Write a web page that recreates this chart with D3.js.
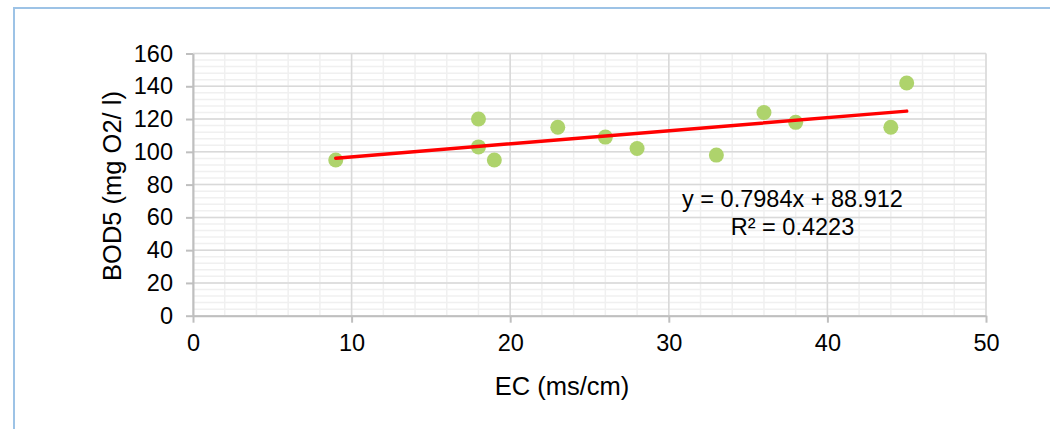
<!DOCTYPE html>
<html>
<head>
<meta charset="utf-8">
<script src="https://cdn.jsdelivr.net/npm/d3@7"></script>
<style>
  html, body { margin: 0; padding: 0; background: #fff; }
  svg { display: block; }
</style>
</head>
<body>
<svg id="chart"></svg>
<script>
// EC (ms/cm) vs BOD5 (mg O2/ l)
const EC = [9, 18, 18, 19, 23, 26, 28, 33, 36, 38, 44, 45];
const BOD5 = [95, 120, 103, 95, 115, 109, 102, 98, 124, 118, 115, 142];
const X_TICKS = [0, 10, 20, 30, 40, 50];
const Y_TICKS = [0, 20, 40, 60, 80, 100, 120, 140, 160];
const EQUATION = ['y = 0.7984x + 88.912', 'R² = 0.4223'];

const W = 1050;
const H = 429;
const margin = { top: 53.5, right: 64, bottom: 113.3, left: 193 };
const FONT = 'Arial, "Liberation Sans", sans-serif';

const svg = d3.select('#chart').attr('width', W).attr('height', H);

// chart frame (runs past the right/bottom edge of the shot)
svg.append('rect')
  .attr('x', 14).attr('y', 8)
  .attr('width', W + 20).attr('height', H + 20)
  .attr('fill', '#fff')
  .attr('stroke', '#9dc3e6')
  .attr('stroke-width', 2);

const x = d3.scaleLinear().domain([0, 50]).range([margin.left, W - margin.right]);
const y = d3.scaleLinear().domain([0, 160]).range([H - margin.bottom, margin.top]);

const g = svg.append('g');

// minor grid
g.append('g')
  .selectAll('line')
  .data(d3.range(0, 50.1, 2))
  .join('line')
  .attr('x1', (d) => x(d)).attr('x2', (d) => x(d))
  .attr('y1', y(0)).attr('y2', y(160))
  .attr('stroke', '#f0f0f0').attr('stroke-width', 1.5);
g.append('g')
  .selectAll('line')
  .data(d3.range(0, 160.1, 4))
  .join('line')
  .attr('x1', x(0)).attr('x2', x(50))
  .attr('y1', (d) => y(d)).attr('y2', (d) => y(d))
  .attr('stroke', '#f0f0f0').attr('stroke-width', 1.5);

// major grid
g.append('g')
  .selectAll('line')
  .data(X_TICKS)
  .join('line')
  .attr('x1', (d) => x(d)).attr('x2', (d) => x(d))
  .attr('y1', y(0)).attr('y2', y(160))
  .attr('stroke', '#d9d9d9').attr('stroke-width', 1.5);
g.append('g')
  .selectAll('line')
  .data(Y_TICKS)
  .join('line')
  .attr('x1', x(0)).attr('x2', x(50))
  .attr('y1', (d) => y(d)).attr('y2', (d) => y(d))
  .attr('stroke', '#d9d9d9').attr('stroke-width', 1.5);

// axes
g.append('g')
  .attr('transform', `translate(0,${y(0)})`)
  .call(d3.axisBottom(x).tickValues(X_TICKS).tickSize(7).tickPadding(12).tickSizeOuter(0))
  .call((a) => a.select('.domain').attr('stroke', '#bfbfbf').attr('stroke-width', 2))
  .call((a) => a.selectAll('line').attr('stroke', '#bfbfbf').attr('stroke-width', 2))
  .call((a) => a.selectAll('text').attr('fill', '#000').attr('font-size', 23.5).attr('font-family', FONT));

g.append('g')
  .attr('transform', `translate(${x(0)},0)`)
  .call(d3.axisLeft(y).tickValues(Y_TICKS).tickSize(7).tickPadding(13).tickSizeOuter(0))
  .call((a) => a.select('.domain').attr('stroke', '#bfbfbf').attr('stroke-width', 2))
  .call((a) => a.selectAll('line').attr('stroke', '#bfbfbf').attr('stroke-width', 2))
  .call((a) => a.selectAll('text').attr('fill', '#000').attr('font-size', 23.5).attr('font-family', FONT));

// points
const pts = EC.map((v, i) => ({ ec: v, bod: BOD5[i] }));
g.append('g')
  .selectAll('circle')
  .data(pts)
  .join('circle')
  .attr('cx', (d) => x(d.ec))
  .attr('cy', (d) => y(d.bod))
  .attr('r', 7.5)
  .attr('fill', '#aed36c');

// linear trendline (least squares)
const mx = d3.mean(EC);
const my = d3.mean(BOD5);
const slope = d3.sum(pts, (d) => (d.ec - mx) * (d.bod - my)) / d3.sum(pts, (d) => (d.ec - mx) ** 2);
const icpt = my - slope * mx;
const [x0, x1] = d3.extent(EC);
g.append('line')
  .attr('x1', x(x0)).attr('y1', y(icpt + slope * x0))
  .attr('x2', x(x1)).attr('y2', y(icpt + slope * x1))
  .attr('stroke', '#ff0000')
  .attr('stroke-width', 3.5)
  .attr('stroke-linecap', 'round');

// equation label
g.append('text')
  .attr('x', 792.5)
  .attr('y', 207)
  .attr('text-anchor', 'middle')
  .attr('font-family', FONT)
  .attr('font-size', 23.5)
  .attr('fill', '#000')
  .selectAll('tspan')
  .data(EQUATION)
  .join('tspan')
  .attr('x', 792.5)
  .attr('dy', (d, i) => (i === 0 ? 0 : 28))
  .text((d) => d);

// axis titles
svg.append('text')
  .attr('x', 562)
  .attr('y', 395)
  .attr('text-anchor', 'middle')
  .attr('font-family', FONT)
  .attr('font-size', 25.5)
  .attr('fill', '#000')
  .text('EC (ms/cm)');

svg.append('text')
  .attr('transform', `translate(121,186) rotate(-90)`)
  .attr('text-anchor', 'middle')
  .attr('font-family', FONT)
  .attr('font-size', 25.5)
  .attr('fill', '#000')
  .text('BOD5 (mg O2/ l)');
</script>
</body>
</html>
